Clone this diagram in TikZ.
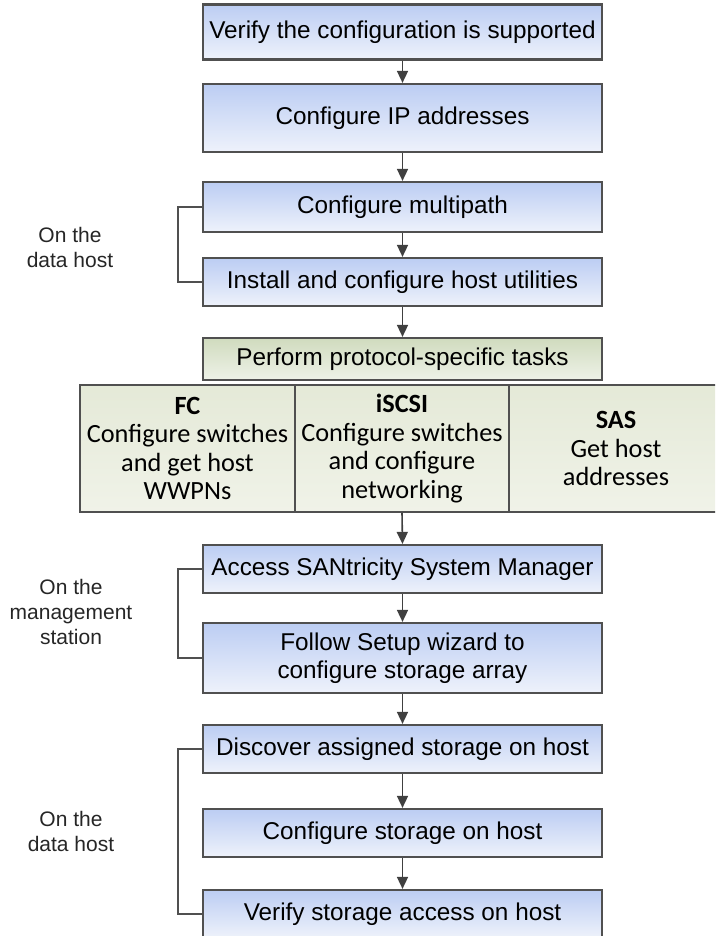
\documentclass[tikz,border=0pt]{standalone}
\usepackage{fontspec}
\setmainfont{Liberation Sans}
\newfontfamily\tabfont{Carlito}
\usetikzlibrary{arrows.meta}
\definecolor{bordergray}{HTML}{505050}
\definecolor{bluetop}{HTML}{BCCDF3}
\definecolor{bluebot}{HTML}{EEF2FB}
\definecolor{greentop}{HTML}{D0DBBE}
\definecolor{greenbot}{HTML}{EEF2E8}
\definecolor{tabfill}{HTML}{E8ECDC}
\definecolor{arrgray}{HTML}{404040}
\tikzset{
  x=1pt, y=1pt,
  stepbox/.style={draw=bordergray, line width=2.2pt, top color=bluetop, bottom color=bluebot,
    minimum width=399pt, inner sep=0pt, align=center,
    font=\fontsize{24.3}{27.5}\selectfont},
  greenbox/.style={stepbox, top color=greentop, bottom color=greenbot},
  tabcell/.style={draw=bordergray, line width=1.5pt, top color=tabfill!85!greentop, bottom color=tabfill!65!white,
    inner sep=0pt, align=center, minimum height=127pt,
    font=\tabfont\fontsize{26.3}{28.5}\selectfont},
  arr/.style={draw=arrgray, line width=1.6pt, -{Triangle[length=12pt,width=11pt]}},
  brk/.style={draw=bordergray, line width=2pt},
  sidelabel/.style={align=center, font=\fontsize{21}{25}\selectfont, text=black!85}
}
\begin{document}
\begin{tikzpicture}
\useasboundingbox (0,0) rectangle (715,-936);
\clip (0,0) rectangle (715,-936);
\node[stepbox, minimum height=55pt] (b1) at (402.5,-32) {Verify the configuration is supported};
\node[stepbox, minimum height=68pt] (b2) at (402.5,-118) {Configure IP addresses};
\node[stepbox, minimum height=50pt] (b3) at (402.5,-207) {Configure multipath};
\node[stepbox, minimum height=48pt] (b4) at (402.5,-282) {Install and configure host utilities};
\node[greenbox, minimum height=42pt] (pp) at (402.5,-359) {Perform protocol-specific tasks};
\node[tabcell, minimum width=215pt] (fc) at (187.5,-448.5) {\textbf{FC}\\Configure switches\\and get host\\WWPNs};
\node[tabcell, minimum width=214pt] (iscsi) at (402,-448.5) {\textbf{iSCSI}\\Configure switches\\and configure\\networking};
\node[tabcell, minimum width=214pt] (sas) at (616,-448.5) {\textbf{SAS}\\Get host\\addresses};
\node[stepbox, minimum height=48pt] (b5) at (402.5,-569) {Access SANtricity System Manager};
\node[stepbox, minimum height=70pt] (b6) at (402.5,-658) {Follow Setup wizard to\\configure storage array};
\node[stepbox, minimum height=48pt] (b7) at (402.5,-749) {Discover assigned storage on host};
\node[stepbox, minimum height=48pt] (b8) at (402.5,-833) {Configure storage on host};
\node[stepbox, minimum height=48pt] (b9) at (402.5,-914) {Verify storage access on host};
\draw[arr] (b1.south) -- (b2.north);
\draw[arr] (b2.south) -- (b3.north);
\draw[arr] (b3.south) -- (b4.north);
\draw[arr] (b4.south) -- (pp.north);
\draw[arr] (iscsi.south) -- (b5.north);
\draw[arr] (b5.south) -- (b6.north);
\draw[arr] (b6.south) -- (b7.north);
\draw[arr] (b7.south) -- (b8.north);
\draw[arr] (b8.south) -- (b9.north);
\draw[brk] (b3.west) -- ++(-24,0) |- (b4.west);
\draw[brk] (b5.west) -- ++(-24,0) |- (b6.west);
\draw[brk] (b7.west) -- ++(-24,0) |- (b9.west);
\node[sidelabel] (l1) at (70,-247) {On the\\data host};
\node[sidelabel] (l2) at (71,-612) {On the\\management\\station};
\node[sidelabel] (l3) at (71,-831) {On the\\data host};
\end{tikzpicture}
\end{document}
